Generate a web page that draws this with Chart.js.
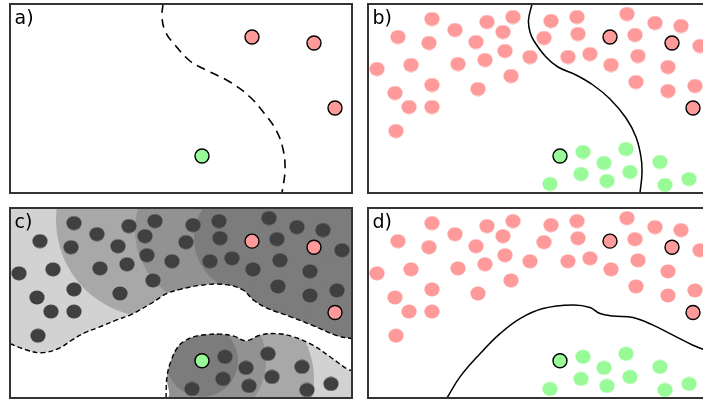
<!DOCTYPE html>
<html>
<head>
<meta charset="utf-8">
<script src="https://cdn.jsdelivr.net/npm/chart.js@4.4.1/dist/chart.umd.min.js"></script>
<style>
  html, body { margin: 0; padding: 0; background: #fff; }
  body { width: 703px; height: 402px; position: relative; overflow: hidden; }
  .panel { position: absolute; width: 344px; }
  #pa { left: 9px; top: 3px; height: 191px; }
  #pb { left: 367px; top: 3px; height: 191px; }
  #pc { left: 9px; top: 207px; height: 192px; }
  #pd { left: 367px; top: 207px; height: 192px; }
</style>
</head>
<body>
<div class="panel" id="pa"><canvas id="chart-a"></canvas></div>
<div class="panel" id="pb"><canvas id="chart-b"></canvas></div>
<div class="panel" id="pc"><canvas id="chart-c"></canvas></div>
<div class="panel" id="pd"><canvas id="chart-d"></canvas></div>
<script>
// all coordinates are in panel units: x 0..342 to the right, y 0..189 downwards

// unlabelled samples (shared by panels b, c, d)
const redX = [64, 30, 61, 87, 119, 145, 135, 108, 137, 117, 90, 43, 9, 162, 143, 110, 64, 27, 41, 64, 28,
  183, 176, 209, 210, 200, 222, 243, 259, 267, 270, 268, 287, 313, 332, 300, 327, 300];
const redY = [15, 33, 39, 26, 18, 13, 28, 38, 47, 56, 60, 61, 65, 53, 72, 85, 81, 89, 103, 103, 127,
  17, 34, 13, 30, 53, 50, 61, 10, 31, 52, 78, 19, 22, 42, 63, 82, 87];
const greenX = [215, 236, 258, 213, 239, 262, 182, 292, 297, 321];
const greenY = [148, 159, 145, 170, 177, 168, 180, 158, 181, 175];

// labelled samples
const labRedX = [242, 304, 325];
const labRedY = [33, 39, 104];
const labGreenX = [192];
const labGreenY = [152];

// a) boundary from labelled data only
const curveAX = [153, 152, 156, 165, 180, 196, 220, 240, 254, 266, 273, 275, 272];
const curveAY = [0, 14, 29, 41, 57, 66, 78, 93, 109, 126, 145, 166, 189];

// b) boundary
const curveBX = [164, 160.5, 162, 166, 178, 190, 208, 225, 242, 258, 268, 273, 274, 272];
const curveBY = [0, 16, 28, 37, 53, 63, 71, 81, 95, 114, 133, 153, 169, 189];

// c) edges of the two clusters
const upperEdgeX = [0, 16, 31, 48, 61, 75, 88, 105, 121, 141, 157, 170, 190, 213, 232, 244, 258, 280, 303, 327, 342];
const upperEdgeY = [135, 141, 144, 140, 132, 124, 119, 112, 106, 95, 85, 81, 77, 76, 81, 92, 100, 108, 117, 127, 130];
const lowerEdgeX = [156, 157, 161, 168, 175, 184, 196, 210, 224, 236, 250, 267, 283, 303, 320, 337, 342];
const lowerEdgeY = [189, 168, 152, 138, 132, 128, 126, 125.5, 127.5, 132, 126.5, 125, 128, 136.5, 148, 160, 162];

// c) propagation rings: centre, radius, step (1 = far, 3 = near the labels)
const ringX = [143, 220, 202, 192, 238, 304, 268, 300, 327, 325, 342, 192];
const ringY = [12, 170, 22, 152, 30, 39, 78, 87, 82, 104, 112, 152];
const ringR = [97, 84, 77, 64, 54, 60, 30, 30, 32, 30, 24, 36];
const ringStep = [1, 1, 2, 2, 3, 3, 3, 3, 3, 3, 3, 3];

// d) boundary
const curveDX = [79, 92, 112, 132, 152, 175, 205, 222, 232, 245, 265, 285, 305, 325, 342];
const curveDY = [189, 168, 145, 125, 110, 100, 96.5, 99, 105, 107.5, 109, 116.5, 126.5, 136.5, 143];

const PINK = '#ff9a9a';
const GREEN = '#98fb98';
const DARK = '#404040';
const SHADES = ['#d2d2d2', '#a8a8a8', '#929292', '#7c7c7c'];

function xy(xs, ys) {
  return xs.map((x, i) => ({ x: x, y: ys[i] }));
}

function dotImage(color) {
  const c = document.createElement('canvas');
  c.width = 16;
  c.height = 15;
  const g = c.getContext('2d');
  g.fillStyle = color;
  g.beginPath();
  g.ellipse(8, 7.5, 7.6, 6.9, 0, 0, Math.PI * 2);
  g.fill();
  return c;
}

// frame, panel letter and optional background of the plot area
const panelDecor = {
  id: 'panelDecor',
  beforeDraw(chart, args, opts) {
    if (!opts.background) return;
    const { ctx, chartArea: a } = chart;
    ctx.save();
    ctx.fillStyle = opts.background;
    ctx.fillRect(a.left, a.top, a.width, a.height);
    ctx.restore();
  },
  afterDraw(chart, args, opts) {
    const { ctx, chartArea: a } = chart;
    ctx.save();
    ctx.strokeStyle = '#333';
    ctx.lineWidth = 2;
    ctx.strokeRect(a.left, a.top, a.width, a.height);
    ctx.fillStyle = '#000';
    ctx.font = '19px "DejaVu Sans", sans-serif';
    ctx.textBaseline = 'alphabetic';
    ctx.fillText(opts.label, a.left + 4.5, a.top + 20);
    ctx.restore();
  }
};
Chart.register(panelDecor);

function baseOptions(label, background) {
  return {
    responsive: true,
    maintainAspectRatio: false,
    animation: false,
    events: [],
    layout: { padding: 1, autoPadding: false },
    plugins: {
      legend: { display: false },
      tooltip: { enabled: false },
      panelDecor: { label: label, background: background || null }
    },
    scales: {
      x: { type: 'linear', min: 0, max: 342, display: false },
      y: { type: 'linear', min: 0, max: 189, reverse: true, display: false }
    }
  };
}

function dots(xs, ys, color) {
  return {
    type: 'scatter', data: xy(xs, ys), pointStyle: dotImage(color),
    pointRadius: 7, order: 2
  };
}

function labelled(xs, ys, color) {
  return {
    type: 'scatter', data: xy(xs, ys), pointStyle: 'circle', pointRadius: 7,
    pointBackgroundColor: color, pointBorderColor: '#000', pointBorderWidth: 1.4, order: 1
  };
}

function curve(xs, ys, dash, width) {
  return {
    type: 'line', data: xy(xs, ys), showLine: true, borderColor: '#000', borderWidth: width,
    borderDash: dash, pointRadius: 0, tension: 0.4, fill: false, clip: 0, order: 5
  };
}

function rings(step) {
  const data = [];
  ringX.forEach((x, i) => {
    if (ringStep[i] === step) data.push({ x: x, y: ringY[i], r: ringR[i] });
  });
  return {
    type: 'bubble', data: data, backgroundColor: SHADES[step], borderWidth: 0,
    clip: 0, order: 20 - step
  };
}

// a) labelled points only
new Chart(document.getElementById('chart-a'), {
  type: 'scatter',
  data: {
    datasets: [
      curve(curveAX, curveAY, [9, 6], 1.6),
      labelled(labRedX, labRedY, PINK),
      labelled(labGreenX, labGreenY, GREEN)
    ]
  },
  options: baseOptions('a)')
});

// b) with the unlabelled samples
new Chart(document.getElementById('chart-b'), {
  type: 'scatter',
  data: {
    datasets: [
      curve(curveBX, curveBY, [], 1.5),
      dots(redX, redY, PINK),
      dots(greenX, greenY, GREEN),
      labelled(labRedX, labRedY, PINK),
      labelled(labGreenX, labGreenY, GREEN)
    ]
  },
  options: baseOptions('b)')
});

// c) clusters and propagation
const gapEdge = curve(upperEdgeX, upperEdgeY, [5, 3], 1.4);
gapEdge.fill = '+1';
gapEdge.backgroundColor = '#ffffff';
gapEdge.order = 10;
const gapFloor = curve([0].concat(lowerEdgeX), [189].concat(lowerEdgeY), [], 0);
gapFloor.borderColor = 'rgba(0,0,0,0)';
gapFloor.order = 11;
const lowerEdge = curve(lowerEdgeX, lowerEdgeY, [5, 3], 1.4);
lowerEdge.order = 9;

new Chart(document.getElementById('chart-c'), {
  type: 'scatter',
  data: {
    datasets: [
      gapEdge,
      gapFloor,
      lowerEdge,
      rings(1),
      rings(2),
      rings(3),
      dots(redX.concat(greenX), redY.concat(greenY), DARK),
      labelled(labRedX, labRedY, PINK),
      labelled(labGreenX, labGreenY, GREEN)
    ]
  },
  options: baseOptions('c)', SHADES[0])
});

// d) final boundary
new Chart(document.getElementById('chart-d'), {
  type: 'scatter',
  data: {
    datasets: [
      curve(curveDX, curveDY, [], 1.5),
      dots(redX, redY, PINK),
      dots(greenX, greenY, GREEN),
      labelled(labRedX, labRedY, PINK),
      labelled(labGreenX, labGreenY, GREEN)
    ]
  },
  options: baseOptions('d)')
});
</script>
</body>
</html>
